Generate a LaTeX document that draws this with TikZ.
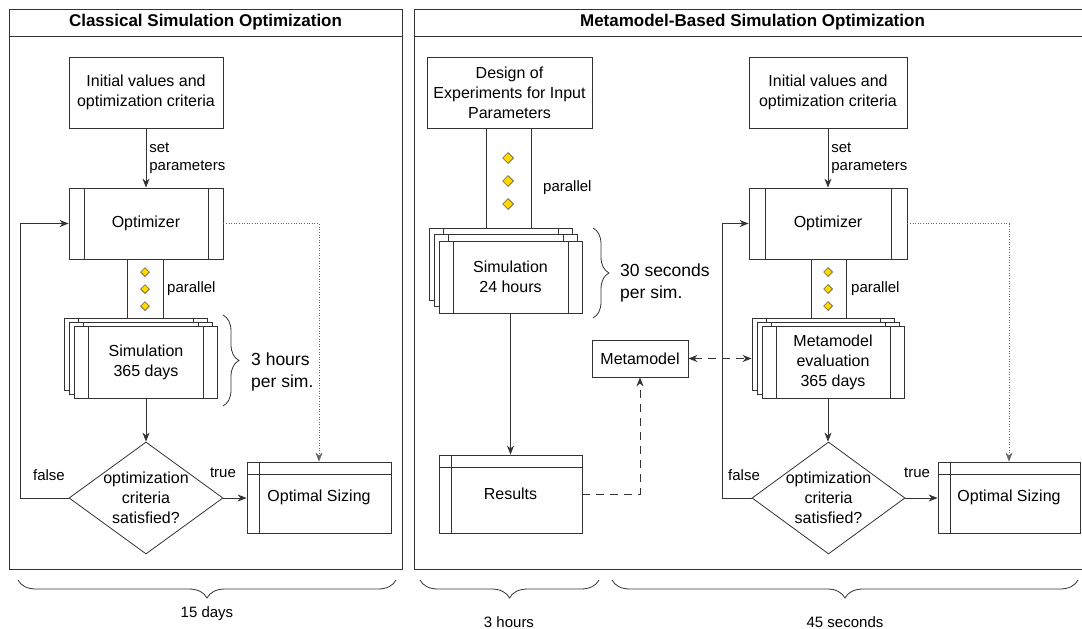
\documentclass[tikz,border=0pt]{standalone}
\usepackage{fontspec}
\setmainfont{Liberation Sans}
\usepackage{xcolor}
\usetikzlibrary{arrows.meta, shapes.geometric, decorations.pathreplacing}

\definecolor{lineclr}{HTML}{333333}
\definecolor{dotclr}{HTML}{FFD800}

\newcommand\bodyfont{\fontsize{16}{20}\selectfont}
\newcommand\lblfont{\fontsize{15}{18}\selectfont}
\newcommand\notefont{\fontsize{17.5}{21.5}\selectfont}
\newcommand\titlefont{\fontsize{17}{20}\selectfont\bfseries}

\tikzset{
  base/.style={draw=lineclr, fill=white, line width=0.8pt, font=\bodyfont, align=center, inner sep=2pt},
  procbox/.style={base, minimum width=143pt, minimum height=72pt, path picture={
      \draw[lineclr, line width=0.8pt]
        ([xshift=#1]path picture bounding box.north west) -- ([xshift=#1]path picture bounding box.south west)
        ([xshift=-#1]path picture bounding box.north east) -- ([xshift=-#1]path picture bounding box.south east);}},
  procbox/.default=14pt,
  storebox/.style={base, path picture={
      \draw[lineclr, line width=0.8pt]
        ([yshift=-12pt]path picture bounding box.north west) -- ([yshift=-12pt]path picture bounding box.north east)
        ([xshift=12pt]path picture bounding box.north west) -- ([xshift=12pt]path picture bounding box.south west);}},
  decision/.style={diamond, draw=lineclr, fill=white, line width=0.8pt, inner sep=0pt, minimum width=154pt, minimum height=112pt},
  band/.style={draw=lineclr, line width=0.8pt, inner sep=0pt},
  dot/.style={diamond, draw=black!80, fill=dotclr, line width=0.5pt, inner sep=0pt, minimum size=#1},
  dot/.default=9pt,
  lbl/.style={font=\lblfont, inner sep=1pt},
  note/.style={font=\notefont, align=left, anchor=west, inner sep=0pt},
  flow/.style={draw=lineclr, line width=0.8pt, -{Stealth[length=9pt, width=7pt]}},
  hint/.style={draw=black!60, line width=0.6pt, dotted, -{Stealth[length=9pt, width=7pt]}},
  link/.style={draw=lineclr, line width=0.8pt, dash pattern=on 8pt off 6pt, -{Stealth[length=9pt, width=7pt]}},
  curly/.style={draw=lineclr, line width=0.8pt, decorate, decoration={brace, amplitude=#1}},
  curly/.default=16pt,
  panel/.style={draw=lineclr, line width=0.9pt},
}

\begin{document}
\begin{tikzpicture}[x=1pt, y=-1pt]
  \useasboundingbox (0,0) rectangle (1082,629);

  % panels
  \draw[panel] (9,9) rectangle (402,569);
  \draw[panel] (9,36) -- (402,36);
  \draw[panel] (1086,9) -- (414,9) -- (414,569) -- (1086,569);
  \draw[panel] (414,36) -- (1086,36);
  \node[font=\titlefont] (title1) at (205.5,22.5) {Classical Simulation Optimization};
  \node[font=\titlefont] (title2) at (752.5,22.5) {Metamodel-Based Simulation Optimization};

  % classical
  \node[base, minimum width=154pt, minimum height=71pt] (init1) at (146,92.5) {Initial values and\\optimization criteria};
  \node[procbox=15pt, minimum width=154pt, minimum height=71pt] (opt1) at (146,223.5) {Optimizer};
  \node[band, minimum width=36pt, minimum height=59pt] (band1) at (145,288.5) {};
  \foreach \y [count=\k] in {272,289,306}
    \node[dot] (dot1\k) at (145,\y) {};
  \node[lbl, anchor=west] (par1) at (166,289) {parallel};
  \node[procbox] (sim1c) at (136,354) {};
  \node[procbox] (sim1b) at (141,358) {};
  \node[procbox] (sim1) at (146,362) {Simulation\\365 days};
  \draw[curly] (223,315) -- (223,406);
  \node[note] (cost1) at (251,372) {3 hours\\per sim.};
  \node[decision] (dec1) at (146,498) {};
  \node[font=\bodyfont, align=center] (ask1) at (dec1) {optimization\\criteria\\satisfied?};
  \node[storebox, minimum width=144pt, minimum height=71pt] (out1) at (319,497.5) {Optimal Sizing};
  \node[lbl] (no1) at (49,475) {false};
  \node[lbl] (yes1) at (223,473) {true};

  \draw[flow] (init1) -- node[lbl, right, align=left, inner sep=3pt] {set\\parameters} (opt1);
  \draw[flow] (sim1) -- (dec1);
  \draw[flow] (dec1.east) -- (dec1.east -| out1.west);
  \draw[flow] (dec1.west) -- ([xshift=-48pt]dec1.west) |- (opt1.west);
  \draw[hint] (opt1.east) -| (out1.north);

  \draw[curly=18pt] (396,580) -- (18,580);
  \node[lbl] (span1) at (207,614) {15 days};

  % metamodel based
  \node[base, minimum width=165pt, minimum height=71pt] (doe) at (509.5,92.5) {Design of\\Experiments for Input\\Parameters};
  \node[band, minimum width=45pt, minimum height=100pt] (band2) at (508.5,178) {};
  \foreach \y [count=\k] in {158,181,204}
    \node[dot=11pt] (dot2\k) at (508,\y) {};
  \node[lbl, anchor=west] (par2) at (542,188) {parallel};
  \node[procbox] (sim2c) at (500.5,264) {};
  \node[procbox] (sim2b) at (505.5,270.5) {};
  \node[procbox] (sim2) at (510.5,277) {Simulation\\24 hours};
  \draw[curly] (593,228) -- (593,318);
  \node[note] (cost2) at (620,283) {30 seconds\\per sim.};
  \node[storebox, minimum width=143pt, minimum height=78pt] (res) at (510.5,494) {Results};
  \node[base, minimum width=96pt, minimum height=37pt] (meta) at (640,358.5) {Metamodel};

  \node[base, minimum width=158pt, minimum height=71pt] (init2) at (828,92.5) {Initial values and\\optimization criteria};
  \node[procbox=16pt, minimum width=158pt, minimum height=71pt] (opt2) at (828,223.5) {Optimizer};
  \node[band, minimum width=35pt, minimum height=59pt] (band3) at (828.5,288.5) {};
  \foreach \y [count=\k] in {272,289,306}
    \node[dot] (dot3\k) at (828,\y) {};
  \node[lbl, anchor=west] (par3) at (850,289) {parallel};
  \node[procbox, minimum width=142pt] (mev3) at (823,354) {};
  \node[procbox, minimum width=142pt] (mev2) at (828,358) {};
  \node[procbox, minimum width=142pt] (mev) at (833,362) {Metamodel\\evaluation\\365 days};
  \node[decision, minimum width=153pt] (dec2) at (828.5,498) {};
  \node[font=\bodyfont, align=center] (ask2) at (dec2) {optimization\\criteria\\satisfied?};
  \node[storebox, minimum width=142pt, minimum height=71pt] (out2) at (1009,497.5) {Optimal Sizing};
  \node[lbl] (no2) at (744,475) {false};
  \node[lbl] (yes2) at (917,473) {true};

  \draw[flow] (sim2) -- (res);
  \draw[link] (res.east) -| (meta.south);
  \draw[flow] (init2) -- node[lbl, right, align=left, inner sep=3pt] {set\\parameters} (opt2);
  \draw[flow] ([xshift=-5pt]mev.south) -- ([xshift=-5pt]mev.south |- dec2.north);
  \draw[flow] (dec2.east) -- (dec2.east -| out2.west);
  \draw[flow] (dec2.west) -- ([xshift=-29pt]dec2.west) |- (opt2.west);
  \draw[hint] (opt2.east) -| (out2.north);
  \draw[link, {Stealth[length=9pt, width=7pt]}-{Stealth[length=9pt, width=7pt]}] (meta.east) -- (meta.east -| mev3.west);

  \draw[curly=18pt] (599,580) -- (420,580);
  \node[lbl] (span2) at (509,622) {3 hours};
  \draw[curly=18pt] (1078,580) -- (612,580);
  \node[lbl] (span3) at (845,622) {45 seconds};
\end{tikzpicture}
\end{document}
